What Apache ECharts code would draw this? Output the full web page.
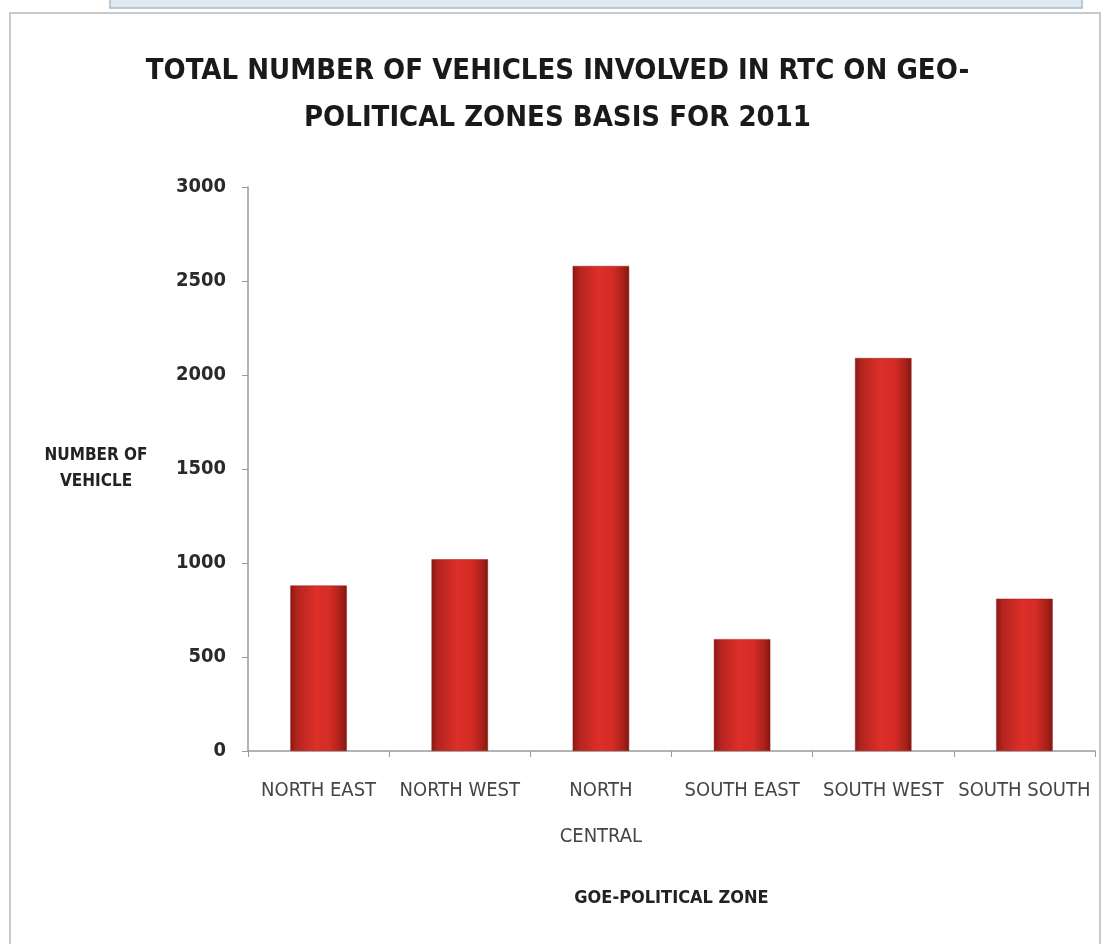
<!DOCTYPE html>
<html>
<head>
<meta charset="utf-8">
<title>Vehicles involved in RTC by geo-political zone, 2011</title>
<script src="https://cdn.jsdelivr.net/npm/echarts@6/dist/echarts.min.js"></script>
<style>
  html, body { margin: 0; padding: 0; background: #ffffff; }
  #chart { width: 1115px; height: 944px; }
</style>
</head>
<body>
<div id="chart"></div>
<script>
// Geo-political zones (x axis categories)
const zones = ['NORTH EAST', 'NORTH WEST', 'NORTH\nCENTRAL', 'SOUTH EAST', 'SOUTH WEST', 'SOUTH SOUTH'];
// Total number of vehicles involved in road traffic crashes, 2011
const vehicles = [880, 1020, 2580, 595, 2090, 810];
// Value axis ticks
const yTicks = [0, 500, 1000, 1500, 2000, 2500, 3000];

const titleFont = '"DejaVu Sans Condensed", "DejaVu Sans", sans-serif';
const labelFont = '"Liberation Sans Narrow", "DejaVu Sans Condensed", "DejaVu Sans", sans-serif';

const chart = echarts.init(document.getElementById('chart'), null, { renderer: 'canvas' });

// Bar body: dark edges with a brighter middle, like a rounded column
const barFill = new echarts.graphic.LinearGradient(0, 0, 1, 0, [
  { offset: 0, color: '#8a1a15' },
  { offset: 0.12, color: '#b52420' },
  { offset: 0.45, color: '#dc2f28' },
  { offset: 0.7, color: '#d42c25' },
  { offset: 0.9, color: '#a82019' },
  { offset: 1, color: '#7e1712' }
]);

chart.setOption({
  backgroundColor: '#ffffff',
  animation: false,
  graphic: [
    // page frame around the chart
    {
      type: 'rect', silent: true, z: -10,
      shape: { x: 10, y: 13, width: 1090, height: 960 },
      style: { fill: '#ffffff', stroke: '#c9c9c9', lineWidth: 2 }
    },
    // pale blue strip above the frame
    {
      type: 'rect', silent: true, z: -9,
      shape: { x: 110, y: -4, width: 972, height: 12 },
      style: { fill: '#dfeaf2', stroke: '#a9bccb', lineWidth: 1.5 }
    }
  ],
  title: {
    text: 'TOTAL NUMBER OF VEHICLES INVOLVED IN RTC ON GEO-\nPOLITICAL ZONES BASIS FOR 2011',
    left: 'center',
    top: 43,
    textStyle: {
      fontFamily: titleFont,
      fontWeight: 'bold',
      fontSize: 29,
      lineHeight: 47,
      color: '#1a1a1a'
    }
  },
  grid: {
    left: 248,
    right: 20,
    top: 187,
    bottom: 193,
    containLabel: false
  },
  xAxis: {
    type: 'category',
    data: zones,
    name: 'GOE-POLITICAL ZONE',
    nameLocation: 'middle',
    nameGap: 138,
    nameTextStyle: {
      fontFamily: titleFont,
      fontWeight: 'bold',
      fontSize: 18,
      color: '#222'
    },
    axisLine: { lineStyle: { color: '#9a9a9a', width: 1.5 } },
    axisTick: { show: true, length: 6, alignWithLabel: false, lineStyle: { color: '#9a9a9a' } },
    axisLabel: {
      interval: 0,
      margin: 17,
      fontFamily: labelFont,
      fontSize: 20,
      lineHeight: 46,
      color: '#454545',
      verticalAlign: 'top'
    }
  },
  yAxis: {
    type: 'value',
    min: yTicks[0],
    max: yTicks[yTicks.length - 1],
    interval: yTicks[1] - yTicks[0],
    name: 'NUMBER OF\nVEHICLE',
    nameLocation: 'middle',
    nameRotate: 0,
    nameGap: 152,
    nameTextStyle: {
      fontFamily: titleFont,
      fontWeight: 'bold',
      fontSize: 17,
      lineHeight: 26,
      color: '#222',
      align: 'center',
      verticalAlign: 'middle'
    },
    axisLine: { show: true, lineStyle: { color: '#9a9a9a', width: 1.5 } },
    axisTick: { show: true, length: 6, lineStyle: { color: '#9a9a9a' } },
    splitLine: { show: false },
    axisLabel: {
      margin: 22,
      fontFamily: titleFont,
      fontWeight: 'bold',
      fontSize: 20,
      color: '#2a2a2a',
      formatter: function (v) { return String(v); }
    }
  },
  series: [
    {
      type: 'bar',
      data: vehicles,
      barWidth: '40%',
      itemStyle: {
        color: barFill,
        borderColor: '#9a1d17',
        borderWidth: 0.5
      }
    }
  ]
});
</script>
</body>
</html>
